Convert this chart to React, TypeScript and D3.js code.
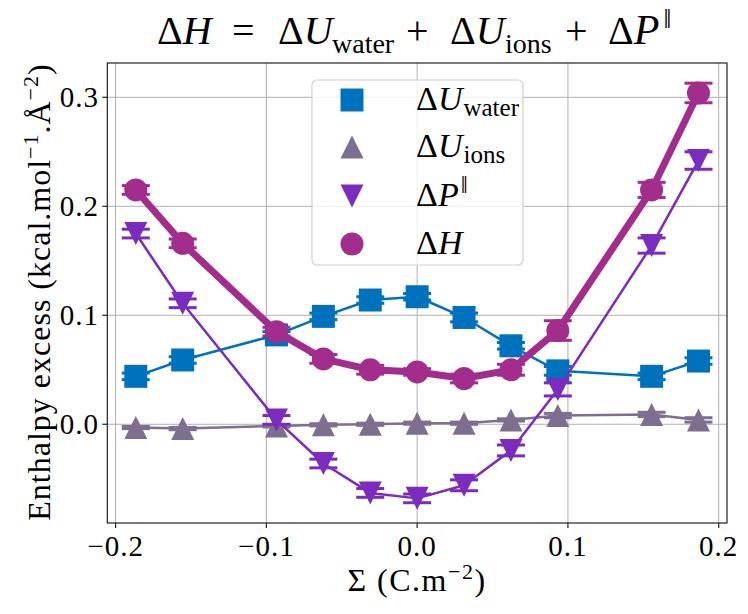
import * as d3 from "d3";
import { useEffect, useRef } from "react";

// charge density (C/m^2)
const sigma = [-0.1866, -0.1555, -0.0933, -0.0622, -0.0311, 0, 0.0311, 0.0622, 0.0933, 0.1555, 0.1866];

const uWater = [0.044, 0.059, 0.082, 0.099, 0.114, 0.117, 0.098, 0.072, 0.049, 0.044, 0.058];
const uWaterErr = [0.003, 0.003, 0.003, 0.003, 0.003, 0.003, 0.004, 0.003, 0.004, 0.003, 0.003];

const uIons = [-0.003, -0.004, -0.0015, -0.0005, 0.0, 0.001, 0.001, 0.004, 0.008, 0.009, 0.004];
const uIonsErr = [0.001, 0.001, 0.001, 0.001, 0.001, 0.001, 0.001, 0.001, 0.002, 0.002, 0.002];

const pPar = [0.175, 0.111, 0.004, -0.036, -0.063, -0.068, -0.056, -0.024, 0.032, 0.164, 0.242];
const pParErr = [0.004, 0.004, 0.004, 0.004, 0.004, 0.004, 0.005, 0.005, 0.006, 0.007, 0.008];

const hTot = [0.215, 0.166, 0.085, 0.06, 0.05, 0.048, 0.042, 0.05, 0.086, 0.215, 0.304];
const hTotErr = [0.004, 0.004, 0.004, 0.004, 0.004, 0.003, 0.004, 0.005, 0.009, 0.007, 0.009];

const xTicks = [-0.2, -0.1, 0.0, 0.1, 0.2];
const yTicks = [0.0, 0.1, 0.2, 0.3];

const FONT = "'Liberation Serif', serif";

type Series = {
  y: number[];
  err: number[];
  color: string;
  lw: number;
  marker: "square" | "up" | "down" | "circle";
};

const series: Series[] = [
  { y: uWater, err: uWaterErr, color: "#0072bd", lw: 2.5, marker: "square" },
  { y: uIons, err: uIonsErr, color: "#7e6e8f", lw: 2.5, marker: "up" },
  { y: pPar, err: pParErr, color: "#7b2cbf", lw: 2.5, marker: "down" },
  { y: hTot, err: hTotErr, color: "#a22d8c", lw: 7, marker: "circle" },
];

function markerPath(m: string, s: number) {
  const h = s / 2;
  if (m === "square") return `M${-h},${-h}H${h}V${h}H${-h}Z`;
  if (m === "up") return `M0,${-h}L${h},${h}L${-h},${h}Z`;
  if (m === "down") return `M0,${h}L${h},${-h}L${-h},${-h}Z`;
  return d3.symbol(d3.symbolCircle, Math.PI * h * h)() as string;
}

export default function App() {
  const svgRef = useRef<SVGSVGElement>(null);

  useEffect(() => {
    const svg = d3.select(svgRef.current);
    svg.selectAll("*").remove();

    const left = 107.3, right = 727, top = 63, bottom = 523;
    const x = d3.scaleLinear().domain([-0.2055, 0.2055]).range([left, right]);
    const y = d3.scaleLinear().domain([-0.0906, 0.3315]).range([bottom, top]);

    // grid
    const grid = svg.append("g").attr("stroke", "#b0b0b0").attr("stroke-width", 1);
    xTicks.forEach((t) =>
      grid.append("line").attr("x1", x(t)).attr("x2", x(t)).attr("y1", top).attr("y2", bottom)
    );
    yTicks.forEach((t) =>
      grid.append("line").attr("x1", left).attr("x2", right).attr("y1", y(t)).attr("y2", y(t))
    );

    // data
    series.forEach((s) => {
      const g = svg.append("g");
      const line = d3
        .line<number>()
        .x((_, i) => x(sigma[i]))
        .y((d) => y(d));
      g.append("path")
        .attr("d", line(s.y))
        .attr("fill", "none")
        .attr("stroke", s.color)
        .attr("stroke-width", s.lw)
        .attr("stroke-linejoin", "round");
      s.y.forEach((v, i) => {
        const cx = x(sigma[i]);
        const y0 = y(v - s.err[i]);
        const y1 = y(v + s.err[i]);
        g.append("line").attr("x1", cx).attr("x2", cx).attr("y1", y0).attr("y2", y1)
          .attr("stroke", s.color).attr("stroke-width", 2.5);
        [y0, y1].forEach((yy) =>
          g.append("line").attr("x1", cx - 14).attr("x2", cx + 14).attr("y1", yy).attr("y2", yy)
            .attr("stroke", s.color).attr("stroke-width", 3)
        );
      });
      g.selectAll("path.m")
        .data(s.y)
        .enter()
        .append("path")
        .attr("class", "m")
        .attr("d", markerPath(s.marker, 23))
        .attr("transform", (d, i) => `translate(${x(sigma[i])},${y(d)})`)
        .attr("fill", s.color);
    });

    // spines
    svg.append("rect")
      .attr("x", left).attr("y", top).attr("width", right - left).attr("height", bottom - top)
      .attr("fill", "none").attr("stroke", "#222").attr("stroke-width", 1.2);

    // ticks
    const ax = svg.append("g").attr("font-family", FONT).attr("font-size", 29)
      .attr("letter-spacing", 1).attr("fill", "#000");
    xTicks.forEach((t) => {
      ax.append("line").attr("x1", x(t)).attr("x2", x(t)).attr("y1", bottom).attr("y2", bottom + 5)
        .attr("stroke", "#222").attr("stroke-width", 1.2);
      ax.append("text").attr("x", x(t)).attr("y", 556).attr("text-anchor", "middle")
        .text(d3.format(".1f")(t).replace("-", "\u2212"));
    });
    yTicks.forEach((t) => {
      ax.append("line").attr("x1", left - 5).attr("x2", left).attr("y1", y(t)).attr("y2", y(t))
        .attr("stroke", "#222").attr("stroke-width", 1.2);
      ax.append("text").attr("x", 99).attr("y", y(t) + 10).attr("text-anchor", "end")
        .text(d3.format(".1f")(t));
    });

    // legend
    const lg = svg.append("g");
    lg.append("rect").attr("x", 312).attr("y", 80).attr("width", 211).attr("height", 185).attr("rx", 5)
      .attr("fill", "white").attr("fill-opacity", 0.8).attr("stroke", "#d0d0d0").attr("stroke-width", 1.2);
    const rowsY = [100, 147, 196, 244];
    const labels: [string, string, string][] = [
      ["U", "water", "sub"],
      ["U", "ions", "sub"],
      ["P", "\u2016", "sup"],
      ["H", "", ""],
    ];
    series.forEach((s, i) => {
      lg.append("path").attr("d", markerPath(s.marker, 23))
        .attr("transform", `translate(352,${rowsY[i]})`).attr("fill", s.color);
      const t = lg.append("text").attr("x", 416).attr("y", rowsY[i] + 10)
        .attr("font-family", FONT).attr("font-size", 34);
      t.append("tspan").text("\u0394");
      t.append("tspan").attr("font-style", "italic").text(labels[i][0]);
      if (labels[i][2] === "sub")
        t.append("tspan").attr("font-size", 25).attr("dx", 1).attr("dy", 6).text(labels[i][1]);
      if (labels[i][2] === "sup")
        t.append("tspan").attr("font-size", 25).attr("dx", 2).attr("dy", -13).text(labels[i][1]);
    });

    // title, pieces placed like the LaTeX layout
    const tt = svg.append("text").attr("y", 44).attr("font-family", FONT).attr("font-size", 40);
    tt.append("tspan").attr("x", 157).text("\u0394");
    tt.append("tspan").attr("font-style", "italic").text("H");
    tt.append("tspan").attr("x", 232).text("=");
    tt.append("tspan").attr("x", 278).text("\u0394");
    tt.append("tspan").attr("font-style", "italic").text("U");
    tt.append("tspan").attr("x", 332).attr("font-size", 28).attr("dy", 9).text("water");
    tt.append("tspan").attr("x", 406).attr("dy", -9).text("+");
    tt.append("tspan").attr("x", 450).text("\u0394");
    tt.append("tspan").attr("font-style", "italic").text("U");
    tt.append("tspan").attr("x", 505).attr("font-size", 28).attr("dy", 9).text("ions");
    tt.append("tspan").attr("x", 565).attr("dy", -9).text("+");
    tt.append("tspan").attr("x", 608).text("\u0394");
    tt.append("tspan").attr("font-style", "italic").attr("font-size", 42).text("P");
    tt.append("tspan").attr("dx", 4).attr("font-size", 28).attr("dy", -16).text("\u2016");

    // x label
    const xl = svg.append("text").attr("x", 417).attr("y", 591).attr("text-anchor", "middle")
      .attr("font-family", FONT).attr("font-size", 32).attr("letter-spacing", 1.5);
    xl.append("tspan").text("\u03a3 (C.m");
    xl.append("tspan").attr("font-size", 22).attr("dy", -12).text("\u22122");
    xl.append("tspan").attr("dy", 12).text(")");

    // y label
    const yl = svg.append("text").attr("transform", "translate(50,292) rotate(-90)")
      .attr("text-anchor", "middle").attr("font-family", FONT).attr("font-size", 32)
      .attr("letter-spacing", 1);
    yl.append("tspan").text("Enthalpy excess (kcal.mol");
    yl.append("tspan").attr("font-size", 22).attr("dy", -12).text("\u22121");
    yl.append("tspan").attr("dy", 12).text(".\u00c5");
    yl.append("tspan").attr("font-size", 22).attr("dy", -12).text("\u22122");
    yl.append("tspan").attr("dy", 12).text(")");
  }, []);

  return (
    <svg
      ref={svgRef}
      width={748}
      height={614}
      style={{ position: "absolute", left: 0, top: 0, background: "white" }}
    />
  );
}
